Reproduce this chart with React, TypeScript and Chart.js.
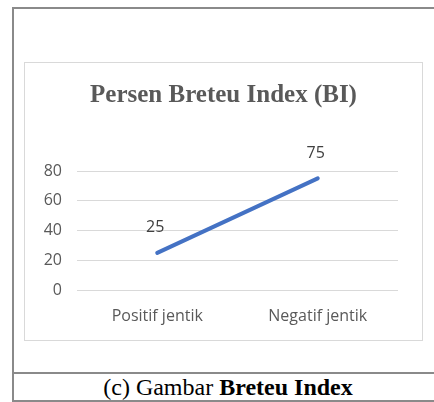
import React, { useEffect, useRef } from "react";
import { Chart, registerables } from "chart.js";

Chart.register(...registerables);

const categories: string[] = ["Positif jentik", "Negatif jentik"];
const values: number[] = [25, 75];
const yMin = 0;
const yMax = 80;
const yStep = 20;
const chartTitle = "Persen Breteu Index (BI)";
const captionPrefix = "(c) Gambar ";
const captionBold = "Breteu Index";

const tickFont = "'Open Sans', sans-serif";

const valueLabelPlugin = {
  id: "valueLabels",
  afterDatasetsDraw(chart: any) {
    const ctx = chart.ctx;
    const meta = chart.getDatasetMeta(0);
    const data = chart.data.datasets[0].data;
    ctx.save();
    ctx.font = "16px " + tickFont;
    ctx.fillStyle = "#404040";
    ctx.textAlign = "center";
    ctx.textBaseline = "middle";
    meta.data.forEach((pt: any, i: number) => {
      ctx.fillText(String(data[i]), pt.x - 2, pt.y - 25);
    });
    ctx.restore();
  },
};

const titlePlugin = {
  id: "centeredTitle",
  afterDraw(chart: any) {
    const ctx = chart.ctx;
    ctx.save();
    ctx.font = "bold 25px 'Liberation Serif', serif";
    ctx.fillStyle = "#595959";
    ctx.textAlign = "center";
    ctx.textBaseline = "middle";
    ctx.fillText(chartTitle, chart.width / 2, 33);
    ctx.restore();
  },
};

function LineChart() {
  const ref = useRef<HTMLCanvasElement>(null);
  useEffect(() => {
    if (!ref.current) return;
    const chart = new Chart(ref.current, {
      type: "line",
      data: {
        labels: categories,
        datasets: [
          {
            data: values,
            borderColor: "#4472C4",
            backgroundColor: "#4472C4",
            borderWidth: 4,
            pointRadius: 0,
            borderCapStyle: "round",
            tension: 0,
          },
        ],
      },
      options: {
        responsive: false,
        animation: false,
        layout: { padding: { left: 0, right: 24, top: 108, bottom: 0 } },
        plugins: {
          legend: { display: false },
          tooltip: { enabled: false },
          title: { display: false },
        },
        scales: {
          x: {
            offset: true,
            afterFit: (scale: any) => {
              scale.height = 50;
            },
            grid: { display: false, drawTicks: false },
            border: { display: false },
            ticks: {
              color: "#595959",
              font: { family: tickFont, size: 16 },
              padding: 17,
              maxRotation: 0,
            },
          },
          y: {
            min: yMin,
            max: yMax,
            afterFit: (scale: any) => {
              scale.width = 52;
            },
            grid: { color: "#d9d9d9", lineWidth: 1, drawTicks: false },
            border: { display: false },
            ticks: {
              stepSize: yStep,
              color: "#595959",
              font: { family: tickFont, size: 16 },
              padding: 15,
            },
          },
        },
      },
      plugins: [valueLabelPlugin, titlePlugin],
    } as any);
    return () => chart.destroy();
  }, []);
  return <canvas ref={ref} width={397} height={277} style={{ display: "block" }} />;
}

export default function App() {
  return (
    <div style={{ position: "absolute", left: 0, top: 0, width: 434, height: 402, overflow: "hidden", background: "#fff" }}>
      {/* outer table frame */}
      <div style={{ position: "absolute", left: 12, top: 7, width: 440, height: 2, background: "#8a8a8a" }} />
      <div style={{ position: "absolute", left: 12, top: 7, width: 2, height: 400, background: "#8a8a8a" }} />
      <div style={{ position: "absolute", left: 12, top: 372, width: 440, height: 2, background: "#8a8a8a" }} />
      <div style={{ position: "absolute", left: 12, top: 400, width: 440, height: 2, background: "#8a8a8a" }} />
      {/* chart box */}
      <div
        style={{
          position: "absolute",
          left: 24,
          top: 62,
          width: 399,
          height: 279,
          boxSizing: "border-box",
          border: "1px solid #d9d9d9",
          background: "#fff",
        }}
      >
        <LineChart />
      </div>
      {/* caption */}
      <div
        style={{
          position: "absolute",
          left: 14,
          top: 375,
          width: 428,
          height: 24,
          lineHeight: "24px",
          textAlign: "center",
          fontFamily: "'Liberation Serif', 'Times New Roman', serif",
          fontSize: 24,
          color: "#000",
          whiteSpace: "nowrap",
        }}
      >
        {captionPrefix}
        <b>{captionBold}</b>
      </div>
    </div>
  );
}
